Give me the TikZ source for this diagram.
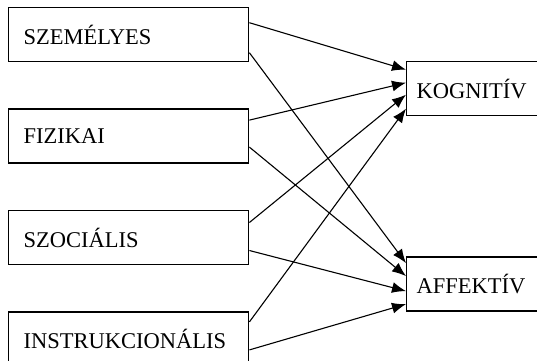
\documentclass[tikz,border=0pt]{standalone}
\usepackage{fontspec}
\setmainfont{Liberation Serif}
\usetikzlibrary{positioning}
\usetikzlibrary{arrows.meta}

\tikzset{
  factor/.style={draw, line width=1.4pt, minimum height=54pt, text width=210pt,
    inner xsep=15pt, align=left, font=\fontsize{22.5}{26}\selectfont},
  outcome/.style={factor, text width=124pt, inner xsep=10pt},
  effect/.style={-{Latex[length=14pt,width=11pt]}, line width=1.1pt}
}

\begin{document}
\begin{tikzpicture}[x=1pt, y=-1pt]
  \useasboundingbox (0,0) rectangle (537,360);
  \clip (0,0) rectangle (537,360);

  \node [factor, anchor=north west] (szemelyes) at (8,7) {SZEMÉLYES};
  \node [factor, below=46pt of szemelyes] (fizikai) {FIZIKAI};
  \node [factor, below=46pt of fizikai] (szocialis) {SZOCIÁLIS};
  \node [factor, below=46pt of szocialis] (instrukcionalis) {INSTRUKCIONÁLIS};

  \node [outcome, anchor=north west] (kognitiv) at (406,61) {KOGNITÍV};
  \node [outcome, below=140pt of kognitiv] (affektiv) {AFFEKTÍV};

  \draw [effect] ([yshift=12pt]szemelyes.east) -- ([yshift=19pt]kognitiv.west);
  \draw [effect] ([yshift=16pt]fizikai.east) -- ([yshift=6pt]kognitiv.west);
  \draw [effect] ([yshift=15pt]szocialis.east) -- ([yshift=-6pt]kognitiv.west);
  \draw [effect] ([yshift=17pt]instrukcionalis.east) -- ([yshift=-20pt]kognitiv.west);

  \draw [effect] ([yshift=-18pt]szemelyes.east) -- ([yshift=21pt]affektiv.west);
  \draw [effect] ([yshift=-11pt]fizikai.east) -- ([yshift=8pt]affektiv.west);
  \draw [effect] ([yshift=-13pt]szocialis.east) -- ([yshift=-7pt]affektiv.west);
  \draw [effect] ([yshift=-11pt]instrukcionalis.east) -- ([yshift=-20pt]affektiv.west);

\end{tikzpicture}
\end{document}
